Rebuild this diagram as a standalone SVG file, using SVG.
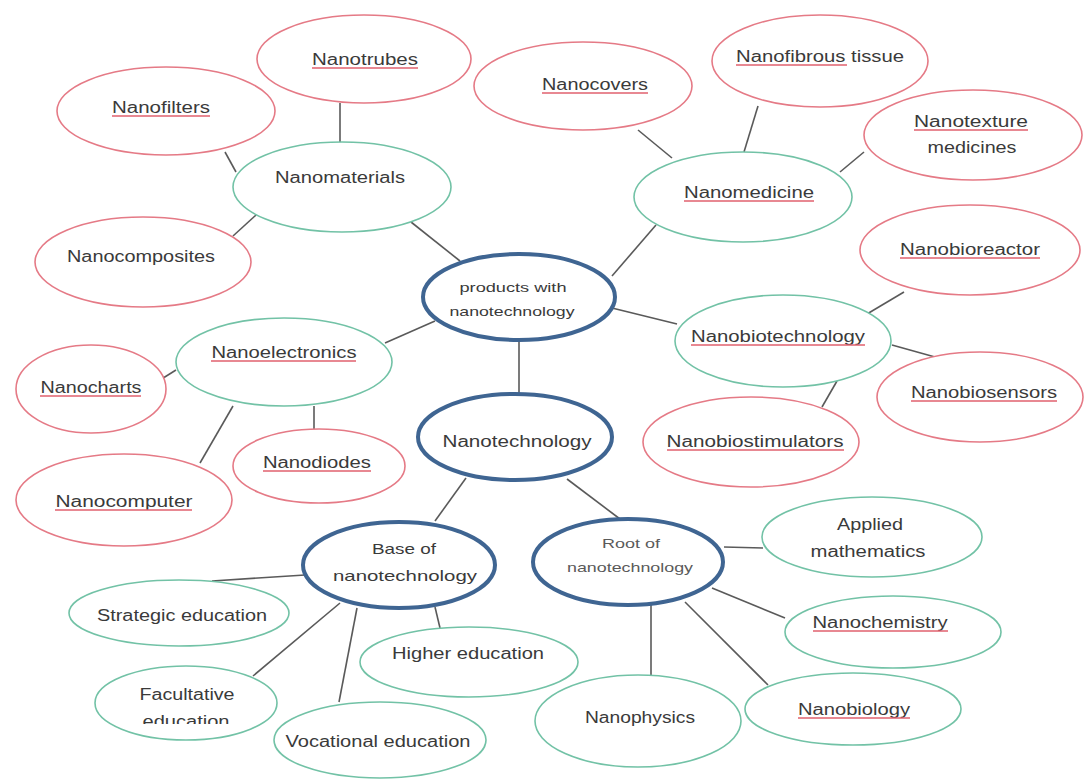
<svg xmlns="http://www.w3.org/2000/svg" width="1086" height="780" viewBox="0 0 1086 780">
<style>
  .bg{fill:#ffffff}
  .red{fill:#ffffff;stroke:#e57a86;stroke-width:1.6}
  .grn{fill:#ffffff;stroke:#72c2a6;stroke-width:1.6}
  .blu{fill:#ffffff;stroke:#3f6592;stroke-width:4}
  .lbl{font-family:"Liberation Sans",Arial,sans-serif;font-size:16px;fill:#3a3a3a;text-anchor:middle;dominant-baseline:central}
  .sm{font-size:13px}
  .md{font-size:14.5px}
  .lt{fill:#5a5a5a}
  .ul{stroke:#e0606e;stroke-width:1.6;fill:none}
  .con line{stroke:#5a5a5a;stroke-width:1.6}
</style>
<defs>
  <clipPath id="clipFac"><rect x="90" y="660" width="200" height="64"/></clipPath>
</defs>
<rect class="bg" x="0" y="0" width="1086" height="780"/>
<g id="connectors" class="con">
  <line x1="340" y1="103" x2="340" y2="142"/>
  <line x1="225" y1="152" x2="236" y2="172"/>
  <line x1="233" y1="236" x2="256" y2="215"/>
  <line x1="411" y1="222" x2="460" y2="261"/>
  <line x1="638" y1="130" x2="672" y2="158"/>
  <line x1="758" y1="106" x2="744" y2="152"/>
  <line x1="864" y1="152" x2="840" y2="172"/>
  <line x1="656" y1="225" x2="612" y2="276"/>
  <line x1="904" y1="292" x2="867" y2="314"/>
  <line x1="612" y1="308" x2="677" y2="324"/>
  <line x1="892" y1="345" x2="935" y2="357"/>
  <line x1="837" y1="381" x2="822" y2="407"/>
  <line x1="385" y1="343" x2="435" y2="321"/>
  <line x1="176" y1="370" x2="160" y2="380"/>
  <line x1="233" y1="406" x2="200" y2="463"/>
  <line x1="314" y1="406" x2="314" y2="429"/>
  <line x1="519" y1="340" x2="519" y2="394"/>
  <line x1="466" y1="478" x2="435" y2="521"/>
  <line x1="567" y1="479" x2="620" y2="519"/>
  <line x1="212" y1="581" x2="305" y2="575"/>
  <line x1="340" y1="603" x2="253" y2="676"/>
  <line x1="357" y1="608" x2="339" y2="702"/>
  <line x1="435" y1="607" x2="440" y2="628"/>
  <line x1="724" y1="547" x2="763" y2="548"/>
  <line x1="712" y1="588" x2="785" y2="618"/>
  <line x1="685" y1="602" x2="768" y2="685"/>
  <line x1="651" y1="603" x2="651" y2="675"/>
</g>

<g id="nanotrubes"><ellipse class="red" cx="364" cy="59" rx="107" ry="44"/><text class="lbl" x="365" y="59" textLength="106" lengthAdjust="spacingAndGlyphs">Nanotrubes</text><line class="ul" x1="312" y1="68" x2="418" y2="68"/></g>
<g id="nanofilters"><ellipse class="red" cx="166" cy="111" rx="109" ry="44"/><text class="lbl" x="161" y="107" textLength="98" lengthAdjust="spacingAndGlyphs">Nanofilters</text><line class="ul" x1="112" y1="116" x2="210" y2="116"/></g>
<g id="nanomaterials"><ellipse class="grn" cx="342" cy="187" rx="109" ry="45"/><text class="lbl" x="340" y="177" textLength="130" lengthAdjust="spacingAndGlyphs">Nanomaterials</text></g>
<g id="nanocomposites"><ellipse class="red" cx="143" cy="262" rx="108" ry="45"/><text class="lbl" x="141" y="256" textLength="148" lengthAdjust="spacingAndGlyphs">Nanocomposites</text></g>
<g id="nanocovers"><ellipse class="red" cx="583" cy="86" rx="109" ry="44"/><text class="lbl" x="595" y="84" textLength="106" lengthAdjust="spacingAndGlyphs">Nanocovers</text><line class="ul" x1="542" y1="93" x2="648" y2="93"/></g>
<g id="nanofibrous"><ellipse class="red" cx="820" cy="61" rx="108" ry="46"/><text class="lbl" x="820" y="56" textLength="168" lengthAdjust="spacingAndGlyphs">Nanofibrous tissue</text><line class="ul" x1="736" y1="65" x2="847" y2="65"/></g>
<g id="nanotexture"><ellipse class="red" cx="973" cy="135" rx="109" ry="45"/><text class="lbl" x="971" y="121" textLength="114" lengthAdjust="spacingAndGlyphs">Nanotexture</text><text class="lbl" x="972" y="147" textLength="89" lengthAdjust="spacingAndGlyphs">medicines</text><line class="ul" x1="914" y1="130" x2="1028" y2="130"/></g>
<g id="nanomedicine"><ellipse class="grn" cx="743" cy="197" rx="109" ry="45"/><text class="lbl" x="749" y="192" textLength="130" lengthAdjust="spacingAndGlyphs">Nanomedicine</text><line class="ul" x1="684" y1="201" x2="814" y2="201"/></g>
<g id="nanobioreactor"><ellipse class="red" cx="970" cy="250" rx="110" ry="45"/><text class="lbl" x="970" y="249" textLength="140" lengthAdjust="spacingAndGlyphs">Nanobioreactor</text><line class="ul" x1="900" y1="258" x2="1040" y2="258"/></g>
<g id="products"><ellipse class="blu" cx="519" cy="297" rx="96" ry="43"/><text class="lbl sm" x="513" y="287" textLength="107" lengthAdjust="spacingAndGlyphs">products with</text><text class="lbl sm" x="512" y="311" textLength="125" lengthAdjust="spacingAndGlyphs">nanotechnology</text></g>
<g id="nanobiotechnology"><ellipse class="grn" cx="783" cy="341" rx="108" ry="46"/><text class="lbl" x="778" y="336" textLength="174" lengthAdjust="spacingAndGlyphs">Nanobiotechnology</text><line class="ul" x1="691" y1="345" x2="865" y2="345"/></g>
<g id="nanobiosensors"><ellipse class="red" cx="980" cy="397" rx="103" ry="45"/><text class="lbl" x="984" y="392" textLength="146" lengthAdjust="spacingAndGlyphs">Nanobiosensors</text><line class="ul" x1="911" y1="401" x2="1057" y2="401"/></g>
<g id="nanobiostimulators"><ellipse class="red" cx="751" cy="442" rx="108" ry="45"/><text class="lbl" x="755" y="441" textLength="177" lengthAdjust="spacingAndGlyphs">Nanobiostimulators</text><line class="ul" x1="667" y1="450" x2="844" y2="450"/></g>
<g id="nanoelectronics"><ellipse class="grn" cx="284" cy="362" rx="108" ry="44"/><text class="lbl" x="284" y="352" textLength="145" lengthAdjust="spacingAndGlyphs">Nanoelectronics</text><line class="ul" x1="211" y1="361" x2="356" y2="361"/></g>
<g id="nanocharts"><ellipse class="red" cx="91" cy="389" rx="75" ry="44"/><text class="lbl" x="91" y="387" textLength="101" lengthAdjust="spacingAndGlyphs">Nanocharts</text><line class="ul" x1="40" y1="396" x2="141" y2="396"/></g>
<g id="nanodiodes"><ellipse class="red" cx="319" cy="466" rx="86" ry="37"/><text class="lbl" x="317" y="462" textLength="108" lengthAdjust="spacingAndGlyphs">Nanodiodes</text><line class="ul" x1="263" y1="471" x2="371" y2="471"/></g>
<g id="nanocomputer"><ellipse class="red" cx="124" cy="500" rx="108" ry="46"/><text class="lbl" x="124" y="501" textLength="137" lengthAdjust="spacingAndGlyphs">Nanocomputer</text><line class="ul" x1="55" y1="510" x2="192" y2="510"/></g>
<g id="nanotechnology"><ellipse class="blu" cx="515" cy="437" rx="97" ry="43"/><text class="lbl" x="517" y="441" textLength="149" lengthAdjust="spacingAndGlyphs">Nanotechnology</text></g>
<g id="base"><ellipse class="blu" cx="399" cy="565" rx="96" ry="43"/><text class="lbl md" x="404" y="549" textLength="64" lengthAdjust="spacingAndGlyphs">Base of</text><text class="lbl md" x="405" y="576" textLength="144" lengthAdjust="spacingAndGlyphs">nanotechnology</text></g>
<g id="root"><ellipse class="blu" cx="628" cy="562" rx="95" ry="43"/><text class="lbl sm lt" x="631" y="543" textLength="58" lengthAdjust="spacingAndGlyphs">Root of</text><text class="lbl sm lt" x="630" y="567" textLength="126" lengthAdjust="spacingAndGlyphs">nanotechnology</text></g>
<g id="applied"><ellipse class="grn" cx="872" cy="537" rx="110" ry="40"/><text class="lbl" x="870" y="524" textLength="66" lengthAdjust="spacingAndGlyphs">Applied</text><text class="lbl" x="868" y="551" textLength="115" lengthAdjust="spacingAndGlyphs">mathematics</text></g>
<g id="nanochemistry"><ellipse class="grn" cx="893" cy="632" rx="108" ry="36"/><text class="lbl" x="880" y="622" textLength="135" lengthAdjust="spacingAndGlyphs">Nanochemistry</text><line class="ul" x1="813" y1="631" x2="948" y2="631"/></g>
<g id="nanobiology"><ellipse class="grn" cx="853" cy="709" rx="108" ry="36"/><text class="lbl" x="854" y="709" textLength="112" lengthAdjust="spacingAndGlyphs">Nanobiology</text><line class="ul" x1="798" y1="718" x2="910" y2="718"/></g>
<g id="nanophysics"><ellipse class="grn" cx="638" cy="721" rx="103" ry="46"/><text class="lbl" x="640" y="717" textLength="110" lengthAdjust="spacingAndGlyphs">Nanophysics</text></g>
<g id="strategic"><ellipse class="grn" cx="179" cy="613" rx="110" ry="33"/><text class="lbl" x="182" y="615" textLength="170" lengthAdjust="spacingAndGlyphs">Strategic education</text></g>
<g id="facultative"><ellipse class="grn" cx="186" cy="703" rx="91" ry="37"/><text class="lbl" x="187" y="694" textLength="95" lengthAdjust="spacingAndGlyphs">Facultative</text><text class="lbl" x="186" y="721" textLength="87" lengthAdjust="spacingAndGlyphs" clip-path="url(#clipFac)">education</text></g>
<g id="vocational"><ellipse class="grn" cx="380" cy="740" rx="106" ry="38"/><text class="lbl" x="378" y="741" textLength="185" lengthAdjust="spacingAndGlyphs">Vocational education</text></g>
<g id="higher"><ellipse class="grn" cx="469" cy="662" rx="109" ry="35"/><text class="lbl" x="468" y="653" textLength="152" lengthAdjust="spacingAndGlyphs">Higher education</text></g>
</svg>
